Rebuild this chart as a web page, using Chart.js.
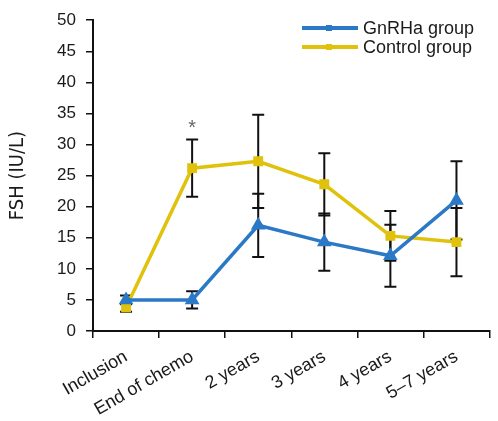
<!DOCTYPE html>
<html>
<head>
<meta charset="utf-8">
<script src="https://cdn.jsdelivr.net/npm/chart.js@4.4.0/dist/chart.umd.min.js"></script>
<style>
  html, body { margin: 0; padding: 0; background: #fff; }
  #wrap { width: 498px; height: 421px; }
</style>
</head>
<body>
<div id="wrap"><canvas id="myChart" width="498" height="421"></canvas></div>
<script>
// values
let categories = ['Inclusion', 'End of chemo', '2 years', '3 years', '4 years', '5\u20137 years'];
let gnrhaValues = [5, 5, 17, 14.3, 12.1, 21];
let gnrhaErr = [0.7, 1.4, 5.1, 4.6, 5, 6.3];
let controlValues = [3.8, 26.2, 27.3, 23.6, 15.3, 14.3];
let controlErr = [0.7, 4.6, 7.5, 5, 4, 5.5];
let yTicks = [0, 5, 10, 15, 20, 25, 30, 35, 40, 45, 50];

var blue = '#2b79c6';
var yellow = '#e0c20c';
var textColor = '#1a1a1a';
var fontFam = '"Liberation Sans", Arial, sans-serif';

// error bars, drawn under the lines
var errorBars = {
  id: 'errorBars',
  beforeDatasetsDraw(chart) {
    let ctx = chart.ctx;
    let x = chart.scales.x, y = chart.scales.y;
    let sets = [[gnrhaValues, gnrhaErr], [controlValues, controlErr]];
    ctx.save();
    ctx.strokeStyle = '#111';
    ctx.lineWidth = 2;
    for (let s = 0; s < sets.length; s++) {
      let vals = sets[s][0], errs = sets[s][1];
      for (let i = 0; i < vals.length; i++) {
        let px = x.getPixelForValue(i);
        let top = y.getPixelForValue(vals[i] + errs[i]);
        let bot = y.getPixelForValue(vals[i] - errs[i]);
        ctx.beginPath();
        ctx.moveTo(px, top); ctx.lineTo(px, bot);
        ctx.moveTo(px - 6, top); ctx.lineTo(px + 6, top);
        ctx.moveTo(px - 6, bot); ctx.lineTo(px + 6, bot);
        ctx.stroke();
      }
    }
    ctx.restore();
  },
  afterDraw(chart) {
    let ctx = chart.ctx;
    let x = chart.scales.x, y = chart.scales.y;
    ctx.save();
    // significance star
    ctx.fillStyle = '#666';
    ctx.font = '20px ' + fontFam;
    ctx.textAlign = 'center';
    ctx.textBaseline = 'middle';
    ctx.fillText('*', x.getPixelForValue(1), y.getPixelForValue(32.5));
    // legend
    let rows = [['GnRHa group', blue], ['Control group', yellow]];
    ctx.font = '18px ' + fontFam;
    ctx.textAlign = 'left';
    for (let r = 0; r < rows.length; r++) {
      let ly = 28 + r * 19;
      ctx.strokeStyle = rows[r][1];
      ctx.lineWidth = 4;
      ctx.beginPath(); ctx.moveTo(302, ly); ctx.lineTo(358, ly); ctx.stroke();
      ctx.fillStyle = rows[r][1];
      ctx.fillRect(326, ly - 3, 6, 6);
      ctx.fillStyle = textColor;
      ctx.fillText(rows[r][0], 363, ly + 1);
    }
    ctx.restore();
  }
};

new Chart('myChart', {
  type: 'line',
  data: {
    labels: categories,
    datasets: [{
      label: 'GnRHa group',
      data: gnrhaValues,
      borderColor: blue,
      backgroundColor: blue,
      borderWidth: 3.5,
      pointStyle: 'triangle',
      pointRadius: 5,
      tension: 0
    }, {
      label: 'Control group',
      data: controlValues,
      borderColor: yellow,
      backgroundColor: yellow,
      borderWidth: 3.5,
      pointStyle: 'rect',
      pointRadius: 4.5,
      tension: 0
    }]
  },
  options: {
    responsive: false,
    animation: false,
    layout: { padding: { left: 0, top: 18, right: -3, bottom: 0 } },
    plugins: {
      legend: { display: false },
      tooltip: { enabled: false }
    },
    scales: {
      x: {
        offset: true,
        grid: { offset: true, drawOnChartArea: false, drawTicks: true, tickLength: 7, color: '#111', lineWidth: 1.5 },
        border: { display: true, color: '#111', width: 2 },
        ticks: { color: textColor, font: { family: fontFam, size: 18 }, minRotation: 30, maxRotation: 30, padding: 8 },
        afterFit(scale) { scale.height = 90; }
      },
      y: {
        min: 0,
        max: 50,
        afterBuildTicks(scale) { scale.ticks = yTicks.map(v => ({ value: v })); },
        grid: { drawOnChartArea: false, drawTicks: true, tickLength: 7, color: '#111', lineWidth: 1.5 },
        border: { display: true, color: '#111', width: 2 },
        ticks: { color: textColor, font: { family: fontFam, size: 17 }, padding: 10 },
        title: {
          display: true,
          text: 'FSH (IU/L)',
          color: textColor,
          font: { family: '"Liberation Sans Narrow", "DejaVu Sans Condensed", sans-serif', size: 20 },
          padding: { top: 6, bottom: 0 }
        },
        afterFit(scale) { scale.width = 93; }
      }
    }
  },
  plugins: [errorBars]
});
</script>
</body>
</html>
